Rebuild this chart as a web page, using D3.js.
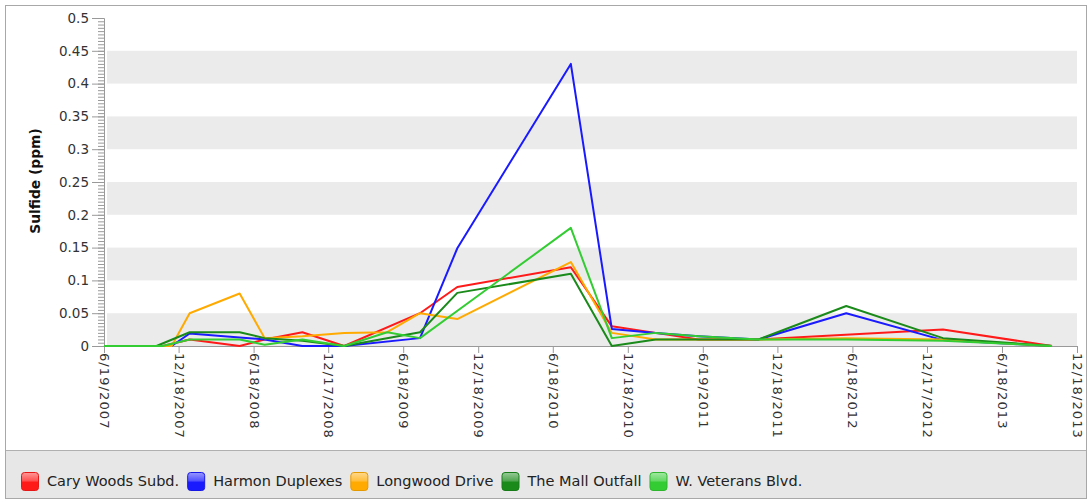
<!DOCTYPE html>
<html>
<head>
<meta charset="utf-8">
<script src="https://cdn.jsdelivr.net/npm/d3@7"></script>
<style>
  html, body { margin: 0; padding: 0; background: #ffffff; }
  svg { display: block; font-family: "DejaVu Sans", Verdana, sans-serif; }
</style>
</head>
<body>
<svg id="chart" width="1091" height="503"></svg>
<script>
// ---- data ----
const sampleDates = ["2007-06-19","2007-10-25","2007-11-09","2007-12-01","2008-01-14","2008-05-15",
  "2008-07-15","2008-10-15","2009-01-25","2009-05-10","2009-07-29","2009-10-28","2010-08-01",
  "2010-11-09","2011-02-24","2011-06-09","2011-11-02","2012-06-03","2013-01-25","2013-10-18"];
const seriesNames = ["Cary Woods Subd.", "Harmon Duplexes", "Longwood Drive", "The Mall Outfall", "W. Veterans Blvd."];
const seriesColors = ["#ff1a1a", "#1a1aff", "#ffaa00", "#1a8a1a", "#33cc33"];
const caryWoods   = [0, null, 0, null, 0.010, 0.000, 0.010, 0.021, 0, null, 0.050, 0.090, 0.120, 0.030, 0.020, 0.010, 0.010, null, 0.025, 0];
const harmon      = [0, null, null, 0, 0.019, 0.013, 0.010, 0.000, 0, null, 0.012, 0.149, 0.430, 0.026, 0.020, 0.015, 0.010, 0.050, 0.009, 0];
const longwood    = [0, null, null, 0, 0.050, 0.080, 0.012, 0.015, 0.020, 0.021, 0.050, 0.041, 0.128, 0.020, 0.010, 0.010, 0.010, 0.012, 0.010, 0];
const mallOutfall = [0, 0, null, null, 0.021, 0.021, 0.012, 0.008, 0, null, 0.021, 0.081, 0.110, 0.000, 0.010, 0.010, 0.010, 0.061, 0.012, 0];
const wVeterans   = [0, null, 0, null, 0.010, 0.010, 0.002, 0.010, 0, 0.021, 0.012, null, 0.180, 0.012, 0.020, 0.015, 0.010, 0.010, 0.008, 0];
const seriesValues = [caryWoods, harmon, longwood, mallOutfall, wVeterans];
const xTickLabels = ["6/19/2007","12/18/2007","6/18/2008","12/17/2008","6/18/2009","12/18/2009","6/18/2010",
  "12/18/2010","6/19/2011","12/18/2011","6/18/2012","12/17/2012","6/18/2013","12/18/2013"];
const yTickValues = [0, 0.05, 0.1, 0.15, 0.2, 0.25, 0.3, 0.35, 0.4, 0.45, 0.5];
const yTickLabels = ["0","0.05","0.1","0.15","0.2","0.25","0.3","0.35","0.4","0.45","0.5"];
const yAxisTitle = "Sulfide (ppm)";

// ---- setup ----
const parse = d3.timeParse("%m/%d/%Y");
const parseIso = d3.timeParse("%Y-%m-%d");
const xTickDates = xTickLabels.map(parse);
const svg = d3.select("#chart");

const x = d3.scaleTime()
  .domain([xTickDates[0], xTickDates[xTickDates.length - 1]])
  .range([104, 1077]);
const y = d3.scaleLinear().domain([0, 0.5]).range([346, 18]);

// frame
svg.append("rect").attr("x", 5.5).attr("y", 5.5).attr("width", 1081).attr("height", 493)
  .attr("fill", "#ffffff").attr("stroke", "#a8a8a8");

// legend panel
svg.append("rect").attr("x", 6).attr("y", 451).attr("width", 1080).attr("height", 47)
  .attr("fill", "#e7e7e7");
svg.append("line").attr("x1", 6).attr("x2", 1086).attr("y1", 450.5).attr("y2", 450.5)
  .attr("stroke", "#b0b0b0");

// bands
const bands = [];
for (let i = 0; i < yTickValues.length - 1; i += 2) bands.push([yTickValues[i], yTickValues[i + 1]]);
svg.append("g").selectAll("rect").data(bands).join("rect")
  .attr("x", 107).attr("width", 1077 - 107)
  .attr("y", d => y(d[1])).attr("height", d => y(d[0]) - y(d[1]))
  .attr("fill", "#ebebeb");

// minor y ticks
const minorVals = d3.range(0, 0.5001, 0.005).map(v => +v.toFixed(3));
const yMinor = svg.append("g").attr("transform", "translate(104,0)")
  .call(d3.axisLeft(y).tickValues(minorVals).tickSize(6).tickFormat(""));
yMinor.select(".domain").remove();
yMinor.selectAll("line").attr("stroke", "#999");

// major y axis
const yAxis = svg.append("g").attr("transform", "translate(104,0)")
  .call(d3.axisLeft(y).tickValues(yTickValues).tickSize(12).tickPadding(3)
    .tickFormat((d, i) => yTickLabels[i]));
yAxis.select(".domain").attr("stroke", "#999");
yAxis.selectAll("line").attr("stroke", "#999");
yAxis.selectAll("text").attr("fill", "#333").style("font-size", "13.5px")
  .style("font-family", "'DejaVu Sans', Verdana, sans-serif");

// x axis
const xAxis = svg.append("g").attr("transform", "translate(0,346)")
  .call(d3.axisBottom(x).tickValues(xTickDates).tickSize(7)
    .tickFormat((d, i) => xTickLabels[i]));
xAxis.select(".domain").attr("stroke", "#999");
xAxis.selectAll("line").attr("stroke", "#999");
xAxis.selectAll("text")
  .attr("x", 7).attr("y", 0).attr("dy", "0.35em")
  .attr("transform", "rotate(90)")
  .style("text-anchor", "start")
  .style("font-size", "13px")
  .style("letter-spacing", "1.1px")
  .style("font-family", "'DejaVu Sans', Verdana, sans-serif")
  .attr("fill", "#333");

// y title
svg.append("text")
  .attr("transform", "translate(40,181) rotate(-90)")
  .attr("text-anchor", "middle")
  .style("font-size", "13.8px").style("font-weight", "bold")
  .attr("fill", "#111")
  .text(yAxisTitle);

// lines
const line = d3.line().x(d => x(d.date)).y(d => y(d.v));
seriesValues.forEach((vals, si) => {
  const pts = vals.map((v, i) => ({ date: parseIso(sampleDates[i]), v })).filter(d => d.v !== null);
  svg.append("path").datum(pts)
    .attr("fill", "none").attr("stroke", seriesColors[si])
    .attr("stroke-width", 2).attr("stroke-linejoin", "round")
    .attr("d", line);
});

// legend
const defs = svg.append("defs");
seriesColors.forEach((c, i) => {
  const g = defs.append("linearGradient").attr("id", "lg" + i).attr("x1", 0).attr("x2", 0).attr("y1", 0).attr("y2", 1);
  g.append("stop").attr("offset", "0%").attr("stop-color", d3.interpolateRgb(c, "#fff")(0.55));
  g.append("stop").attr("offset", "45%").attr("stop-color", d3.interpolateRgb(c, "#fff")(0.25));
  g.append("stop").attr("offset", "55%").attr("stop-color", c);
  g.append("stop").attr("offset", "100%").attr("stop-color", c);
});
let lx = 21;
seriesNames.forEach((name, i) => {
  svg.append("rect").attr("x", lx + 0.5).attr("y", 472.5).attr("width", 17).attr("height", 18)
    .attr("rx", 3).attr("fill", "url(#lg" + i + ")")
    .attr("stroke", d3.color(seriesColors[i]).darker(0.3));
  const t = svg.append("text").attr("x", lx + 26).attr("y", 481).attr("dy", "0.35em")
    .style("font-size", "14.5px").attr("fill", "#222").text(name);
  lx = lx + 26 + t.node().getComputedTextLength() + 8;
});
</script>
</body>
</html>
